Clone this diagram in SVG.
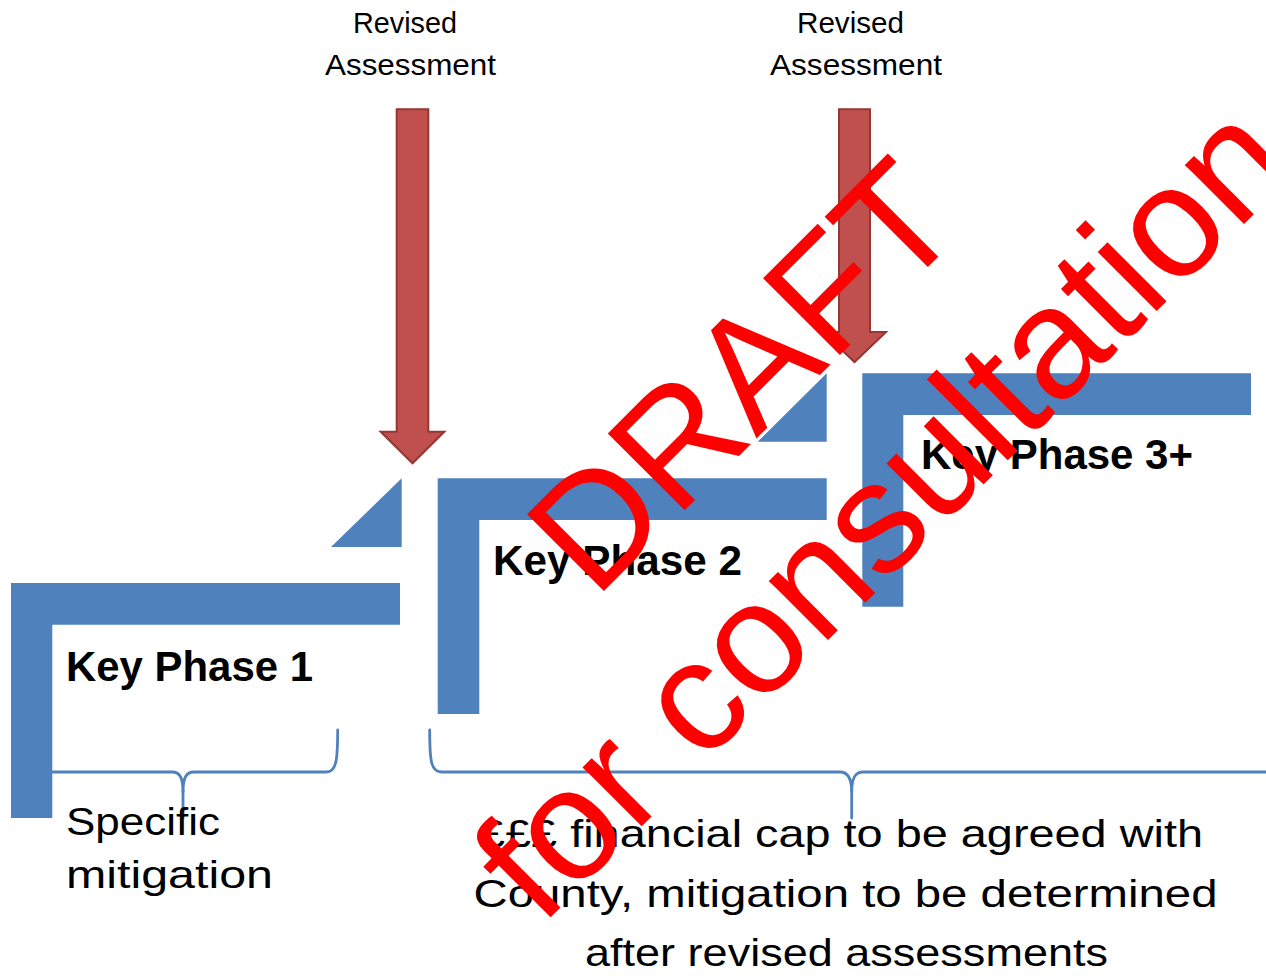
<svg xmlns="http://www.w3.org/2000/svg" width="1266" height="976" viewBox="0 0 1266 976">
<style>
.blue{fill:#4F81BD}
.arrow{fill:#C0504D;stroke:#943634;stroke-width:2}
.brace{fill:none;stroke:#4F81BD;stroke-width:2.8;stroke-linejoin:round;stroke-linecap:round}
.small{font-family:"Liberation Sans",Arial,sans-serif;font-size:29px;fill:#000}
.key{font-family:"Liberation Sans",Arial,sans-serif;font-size:42px;font-weight:bold;fill:#000}
.body{font-family:"Liberation Sans",Arial,sans-serif;font-size:39.5px;fill:#000}
.wm{font-family:"Liberation Sans",Arial,sans-serif;font-size:158px;fill:#FF0000}
</style>
<rect width="1266" height="976" fill="#FFFFFF"/>

<g id="phase1">
<path class="blue" d="M11,583 H400 V624.7 H52.3 V818 H11 Z"/>
<text class="key" x="66" y="681" textLength="247" lengthAdjust="spacingAndGlyphs">Key Phase 1</text>
</g>
<g id="step1">
<polygon class="blue" points="331,547 401.7,478.3 401.7,547"/>
</g>
<g id="phase2">
<path class="blue" d="M437.7,478.3 H826.7 V520 H479.3 V714 H437.7 Z"/>
<text class="key" x="493" y="575" textLength="249" lengthAdjust="spacingAndGlyphs">Key Phase 2</text>
</g>
<g id="step2">
<polygon class="blue" points="757.7,441.7 826.7,373.3 826.7,441.7"/>
</g>
<g id="phase3">
<path class="blue" d="M862.3,373.3 H1251 V415 H903.3 V606.7 H862.3 Z"/>
<text class="key" x="921" y="469" textLength="272" lengthAdjust="spacingAndGlyphs">Key Phase 3+</text>
</g>

<g id="assessment1">
<text class="small" x="353" y="33.3" textLength="104" lengthAdjust="spacingAndGlyphs">Revised</text>
<text class="small" x="325" y="75" textLength="171" lengthAdjust="spacingAndGlyphs">Assessment</text>
</g>
<g id="assessment2">
<text class="small" x="797" y="33.3" textLength="107" lengthAdjust="spacingAndGlyphs">Revised</text>
<text class="small" x="770" y="75" textLength="172" lengthAdjust="spacingAndGlyphs">Assessment</text>
</g>

<g id="connectors">
<path class="arrow" d="M396.7,109.3 H428.3 V431.7 H444.3 L412.5,463.3 L380.7,431.7 H396.7 Z"/>
<path class="arrow" d="M839,109.3 H870 V332 H886 L854.5,362 L823,332 H839 Z"/>
<path class="brace" d="M31.7,728 C31.7,762 33,772 44,772 L172,772 C180,772 183,778 183,792 C183,778 186,772 194,772 L326,772 C336,772 337.7,762 337.7,730"/>
<path class="brace" d="M183,790 V818"/>
<path class="brace" d="M429.7,730 C429.7,762 431,772 442,772 L840,772 C848,772 851.7,778 851.7,792 C851.7,778 855,772 863,772 L1274,772"/>
<path class="brace" d="M851.7,790 V818"/>
</g>

<g id="label-specific">
<text class="body" x="66" y="835" textLength="154" lengthAdjust="spacingAndGlyphs">Specific</text>
<text class="body" x="66" y="888.3" textLength="207" lengthAdjust="spacingAndGlyphs">mitigation</text>
</g>
<g id="label-cap">
<text class="body" x="479" y="847" textLength="724" lengthAdjust="spacingAndGlyphs">£££ financial cap to be agreed with</text>
<text class="body" x="473.5" y="907" textLength="744" lengthAdjust="spacingAndGlyphs">County, mitigation to be determined</text>
<text class="body" x="585" y="966" textLength="523" lengthAdjust="spacingAndGlyphs">after revised assessments</text>
</g>

<g id="watermark" transform="translate(781,414) rotate(-45)">
<text class="wm" x="0" y="0" text-anchor="middle">DRAFT</text>
<text class="wm" x="3" y="193" text-anchor="middle">for consultation</text>
</g>
</svg>
